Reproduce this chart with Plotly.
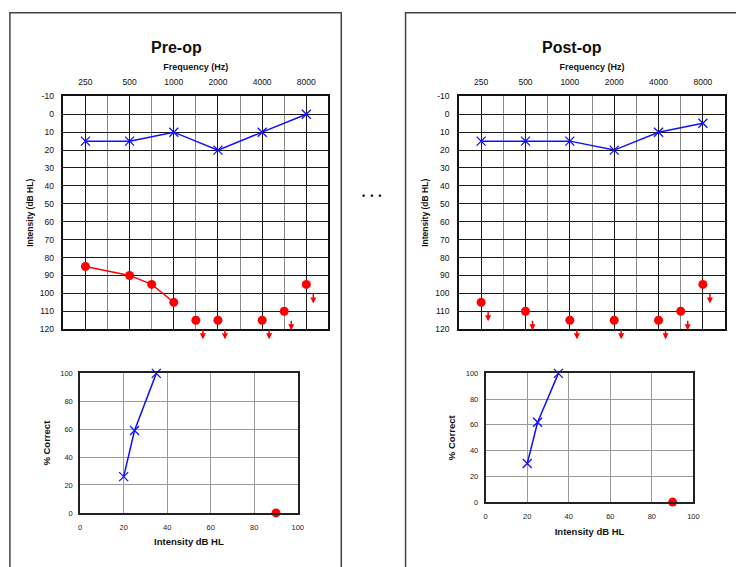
import plotly.graph_objects as go

# Audiogram columns (half-octave grid, one unlabeled spacer column after 250 Hz)
COLUMNS = [250, None, 500, 750, 1000, 1500, 2000, 3000, 4000, 6000, 8000]
OCTAVE_LABELS = [250, 500, 1000, 2000, 4000, 8000]
DB_TICKS = list(range(-10, 130, 10))

# Pre-op thresholds
pre_ear1_freq = [250, 500, 1000, 2000, 4000, 8000]
pre_ear1_db = [15, 15, 10, 20, 10, 0]
pre_ear2_freq = [250, 500, 750, 1000]
pre_ear2_db = [85, 90, 95, 105]
pre_nr_freq = [1500, 2000, 4000, 6000, 8000]
pre_nr_db = [115, 115, 115, 110, 95]

# Post-op thresholds
post_ear1_freq = [250, 500, 1000, 2000, 4000, 8000]
post_ear1_db = [15, 15, 15, 20, 10, 5]
post_nr_freq = [250, 500, 1000, 2000, 4000, 6000, 8000]
post_nr_db = [105, 110, 115, 115, 115, 110, 95]

# Speech recognition (% correct vs presentation level)
pre_speech_level = [20, 25, 35]
pre_speech_pct = [26, 59, 100]
post_speech_level = [20, 25, 35]
post_speech_pct = [30, 62, 100]
no_resp_level = [90]
no_resp_pct = [0]

W, H = 736, 567
FONT = "Liberation Sans, Arial, sans-serif"
BLUE = "#1010ff"
RED = "#ff0000"


def col(f):
    return COLUMNS.index(f)


def px_x(a, b):
    return [a / W, b / W]


def px_y(top, bottom):
    return [1 - bottom / H, 1 - top / H]


fig = go.Figure()

panels = [
    dict(name="Pre-op", ear1=(pre_ear1_freq, pre_ear1_db), ear2=(pre_ear2_freq, pre_ear2_db),
         nr=(pre_nr_freq, pre_nr_db), speech=(pre_speech_level, pre_speech_pct),
         aud_x=(62, 330), sp_x=(79, 299), sp_y=(375, 517), cx=176),
    dict(name="Post-op", ear1=(post_ear1_freq, post_ear1_db), ear2=None,
         nr=(post_nr_freq, post_nr_db), speech=(post_speech_level, post_speech_pct),
         aud_x=(462, 731), sp_x=(489, 699), sp_y=(375, 506), cx=576),
]

X_MARK = dict(symbol="x-thin-open", size=9, line=dict(color=BLUE, width=1.3))
O_MARK = dict(symbol="circle", size=9, color=RED)

annotations = []
layout_axes = {}

for i, p in enumerate(panels):
    ax_a = 2 * i + 1
    ax_s = 2 * i + 2
    xa, ya = f"x{ax_a}", f"y{ax_a}"
    xs, ys = f"x{ax_s}", f"y{ax_s}"

    f1, d1 = p["ear1"]
    fig.add_trace(go.Scatter(
        x=[col(f) for f in f1], y=d1, xaxis=xa, yaxis=ya, mode="lines+markers",
        line=dict(color=BLUE, width=1.5), marker=X_MARK,
        cliponaxis=False, showlegend=False))
    if p["ear2"]:
        f2, d2 = p["ear2"]
        fig.add_trace(go.Scatter(
            x=[col(f) for f in f2], y=d2, xaxis=xa, yaxis=ya, mode="lines+markers",
            line=dict(color=RED, width=1.4), marker=O_MARK,
            cliponaxis=False, showlegend=False))
    fn, dn = p["nr"]
    fig.add_trace(go.Scatter(
        x=[col(f) for f in fn], y=dn, xaxis=xa, yaxis=ya, mode="markers",
        marker=O_MARK, cliponaxis=False, showlegend=False))
    # no-response arrows below each unanswered threshold
    for f, d in zip(fn, dn):
        annotations.append(dict(
            x=col(f), y=d, xref=xa, yref=ya, text="", font=dict(size=1),
            borderpad=0, showarrow=True,
            ax=0, ay=-10, axref="pixel", ayref="pixel", xshift=7, yshift=-19,
            arrowhead=2, arrowsize=0.8, arrowwidth=1.5, arrowcolor=RED,
            standoff=0, startstandoff=0))

    lv, pc = p["speech"]
    fig.add_trace(go.Scatter(
        x=lv, y=pc, xaxis=xs, yaxis=ys, mode="lines+markers",
        line=dict(color=BLUE, width=1.5), marker=X_MARK,
        cliponaxis=False, showlegend=False))
    fig.add_trace(go.Scatter(
        x=no_resp_level, y=no_resp_pct, xaxis=xs, yaxis=ys, mode="markers",
        marker=O_MARK, cliponaxis=False, showlegend=False))

    # audiogram axes
    layout_axes[f"xaxis{ax_a}"] = dict(
        domain=px_x(*p["aud_x"]), anchor=ya, side="top", range=[-1, 11],
        tickmode="array", tickvals=[col(f) for f in OCTAVE_LABELS],
        ticktext=[str(f) for f in OCTAVE_LABELS], ticks="", ticklabelstandoff=6,
        tickfont=dict(family=FONT, size=8.5, color="#111"),
        showgrid=True, gridcolor="#1a1a1a", gridwidth=1.2,
        minor=dict(tickvals=[1, 3, 5, 7, 9], showgrid=True, gridcolor="#8a8a8a", gridwidth=1.2),
        showline=True, mirror=True, linecolor="#111", linewidth=1.5, zeroline=False,
        title=dict(text="<b>Frequency (Hz)</b>", standoff=5,
                   font=dict(family=FONT, size=9, color="#111")))
    layout_axes[f"yaxis{ax_a}"] = dict(
        domain=px_y(93, 330), anchor=xa, range=[120, -10],
        tickmode="array", tickvals=DB_TICKS, ticktext=[str(v) for v in DB_TICKS],
        ticks="", ticklabelstandoff=6,
        tickfont=dict(family=FONT, size=8.5, color="#111"),
        showgrid=True, gridcolor="#1a1a1a", gridwidth=1.2,
        showline=True, mirror=True, linecolor="#111", linewidth=1.5, zeroline=False,
        title=dict(text="<b>Intensity (dB HL)</b>", standoff=5,
                   font=dict(family=FONT, size=8.5, color="#111")))

    # speech axes
    layout_axes[f"xaxis{ax_s}"] = dict(
        domain=px_x(*p["sp_x"]), anchor=ys, range=[0, 100], dtick=20, tick0=0,
        ticks="", ticklabelstandoff=6,
        tickfont=dict(family=FONT, size=7.5, color="#222"),
        showgrid=True, gridcolor="#9a9a9a", gridwidth=1.2,
        showline=True, mirror=True, linecolor="#222", linewidth=1.8, zeroline=False,
        title=dict(text="<b>Intensity dB HL</b>", standoff=8,
                   font=dict(family=FONT, size=9.5, color="#111")))
    layout_axes[f"yaxis{ax_s}"] = dict(
        domain=px_y(*p["sp_y"]), anchor=xs, range=[0, 100], dtick=20, tick0=0,
        ticks="", ticklabelstandoff=4,
        tickfont=dict(family=FONT, size=7.5, color="#222"),
        showgrid=True, gridcolor="#9a9a9a", gridwidth=1.2,
        showline=True, mirror=True, linecolor="#222", linewidth=1.8, zeroline=False,
        title=dict(text="<b>% Correct</b>", standoff=8,
                   font=dict(family=FONT, size=9.5, color="#111")))

    annotations.append(dict(
        x=p["cx"] / W, y=1 - 43 / H, xref="paper", yref="paper", showarrow=False,
        text=f"<b>{p['name']}</b>", font=dict(family=FONT, size=16, color="#111"),
        xanchor="center", yanchor="middle"))

# ellipsis between the two panels
annotations.append(dict(
    x=374 / W, y=1 - 194 / H, xref="paper", yref="paper", showarrow=False,
    text="<b>•\u00a0\u00a0•\u00a0\u00a0•</b>", font=dict(family=FONT, size=9, color="#111"),
    xanchor="center", yanchor="middle"))

# panel frames
shapes = [
    dict(type="rect", xref="paper", yref="paper", x0=8 / W, x1=343 / W,
         y0=-0.1, y1=1 - 8 / H, line=dict(color="#444", width=1.5)),
    dict(type="rect", xref="paper", yref="paper", x0=408 / W, x1=1.1,
         y0=-0.1, y1=1 - 8 / H, line=dict(color="#444", width=1.5)),
]

fig.update_layout(
    width=W, height=H, margin=dict(l=0, r=0, t=0, b=0),
    paper_bgcolor="white", plot_bgcolor="white",
    font=dict(family=FONT), annotations=annotations, shapes=shapes,
    **layout_axes)

fig.write_html("out.html")
